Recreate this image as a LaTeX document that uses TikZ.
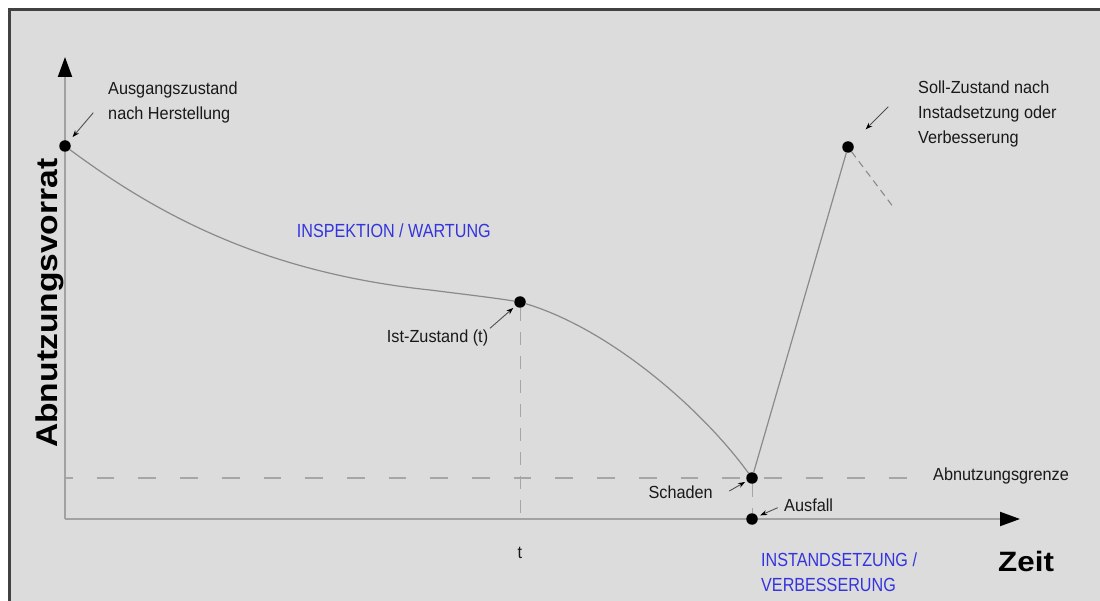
\documentclass[tikz,border=0pt]{standalone}
\usepackage{fontspec}
\setmainfont{Liberation Sans}
\newfontfamily\labelsans[FakeStretch=0.93]{Liberation Sans}
\newfontfamily\narrowsans[FakeStretch=0.85]{Liberation Sans}
\newfontfamily\widesans[FakeStretch=1.12]{Liberation Sans}
\usetikzlibrary{arrows.meta}

\definecolor{panel}{HTML}{DCDCDC}
\definecolor{rim}{HTML}{414141}
\definecolor{axisgray}{HTML}{A2A2A2}
\definecolor{curvegray}{HTML}{8A8A8A}
\definecolor{dashgray}{HTML}{A6A6A6}
\definecolor{notegray}{HTML}{505050}
\definecolor{actionblue}{RGB}{52,52,222}

\begin{document}
\begin{tikzpicture}[x=1pt,y=-1pt,
  dot/.style={circle,fill=black,inner sep=0pt,minimum size=11.5pt},
  axisline/.style={axisgray,line width=2pt,
    -{Triangle[length=20pt,width=14pt,color=black]}},
  wear/.style={curvegray,line width=1.2pt},
  limitdash/.style={dashgray,line width=1.4pt,
    dash pattern=on 17.7pt off 24pt,dash phase=10pt},
  dropdash/.style={dashgray,line width=1pt,dash pattern=on 13pt off 11pt},
  trenddash/.style={curvegray,line width=1.1pt,dash pattern=on 7pt off 5pt},
  note/.style={notegray,line width=0.9pt,
    -{Stealth[length=7pt,width=5pt,color=black]}},
  txt/.style={inner sep=0pt,text=black!90,font=\labelsans\fontsize{17.5}{25}\selectfont},
  action/.style={inner sep=0pt,text=actionblue,
    font=\narrowsans\fontsize{19}{24.5}\selectfont},
  axistitle/.style={inner sep=0pt,font=\widesans\bfseries\fontsize{28}{30}\selectfont}
]
\useasboundingbox (0,0) rectangle (1100,601);

% panel with its dark rim along the top and left
\fill[white] (0,0) rectangle (1100,601);
\fill[panel] (9.5,9.5) rectangle (1100,601);
\draw[rim,line width=2.4pt] (9.5,601) -- (9.5,9.5) -- (1100,9.5);

% axes and wear limit
\coordinate (o) at (65,519);
\coordinate (ytop) at (65,57);
\coordinate (xend) at (1020,519);
\coordinate (gL) at (65,478);
\coordinate (gR) at (922,478);
\draw[limitdash] (gL) -- (gR);
\draw[axisline] (o) -- (ytop);
\draw[axisline] (o) -- (xend);

% states
\node[dot] (start) at (65,146) {};
\node[dot] (now) at (520,302) {};
\node[dot] (damage) at (752,478) {};
\node[dot] (failure) at (752,519) {};
\node[dot] (target) at (848,147) {};
\coordinate (knee) at (430,290);
\coordinate (tfoot) at (520,518);
\coordinate (trendend) at (894,208);

% wear curve and restoration
\draw[wear] (start) .. controls (163,219) and (270,273) .. (knee)
  .. controls (470,295) and (495,298) .. (now);
\draw[wear] (now) .. controls (610,329) and (702,409) .. (damage);
\draw[wear] (damage) -- (target);
\draw[trenddash] (target) -- (trendend);
\draw[dropdash] (now) -- (tfoot);
\draw[dropdash] (damage) -- (failure);

% axis titles
\node[axistitle,font=\widesans\bfseries\fontsize{30}{32}\selectfont,
  rotate=90,anchor=base west] (ytitle) at (57.3,448) {Abnutzungsvorrat};
\node[axistitle,anchor=base west] (xtitle) at (998,571.7) {Zeit};
\node[txt,anchor=base] (tmark) at (520,558) {t};

% labels
\node[txt,anchor=north west,align=left] (initlbl) at (108,81.7)
  {Ausgangszustand\\nach Herstellung};
\node[txt,anchor=north west,align=left] (targetlbl) at (918,80.5)
  {Soll-Zustand nach\\Instadsetzung oder\\Verbesserung};
\node[txt,anchor=base west] (nowlbl) at (386.7,342.5) {Ist-Zustand (t)};
\node[txt,anchor=base east] (damagelbl) at (713,498) {Schaden};
\node[txt,anchor=base west] (failurelbl) at (784,511) {Ausfall};
\node[txt,anchor=base west] (limitlbl) at (933,480.5) {Abnutzungsgrenze};
\node[action,anchor=base west] (inspect) at (296.7,237.3) {INSPEKTION / WARTUNG};
\node[action,anchor=north west,align=left] (repair) at (761,552.7)
  {INSTANDSETZUNG /\\VERBESSERUNG};

% pointer arrows
\coordinate (n1) at (93.3,112.7);
\coordinate (n2) at (888.3,106.7);
\coordinate (n3) at (490,328.3);
\coordinate (n4) at (729.3,491);
\coordinate (n5) at (777.7,507.7);
\draw[note,shorten >=5.7pt] (n1) -- (start);
\draw[note,shorten >=19pt] (n2) -- (target);
\draw[note,shorten >=3pt] (n3) -- (now);
\draw[note,shorten >=2pt] (n4) -- (damage);
\draw[note,shorten >=3pt] (n5) -- (failure);
\end{tikzpicture}
\end{document}
